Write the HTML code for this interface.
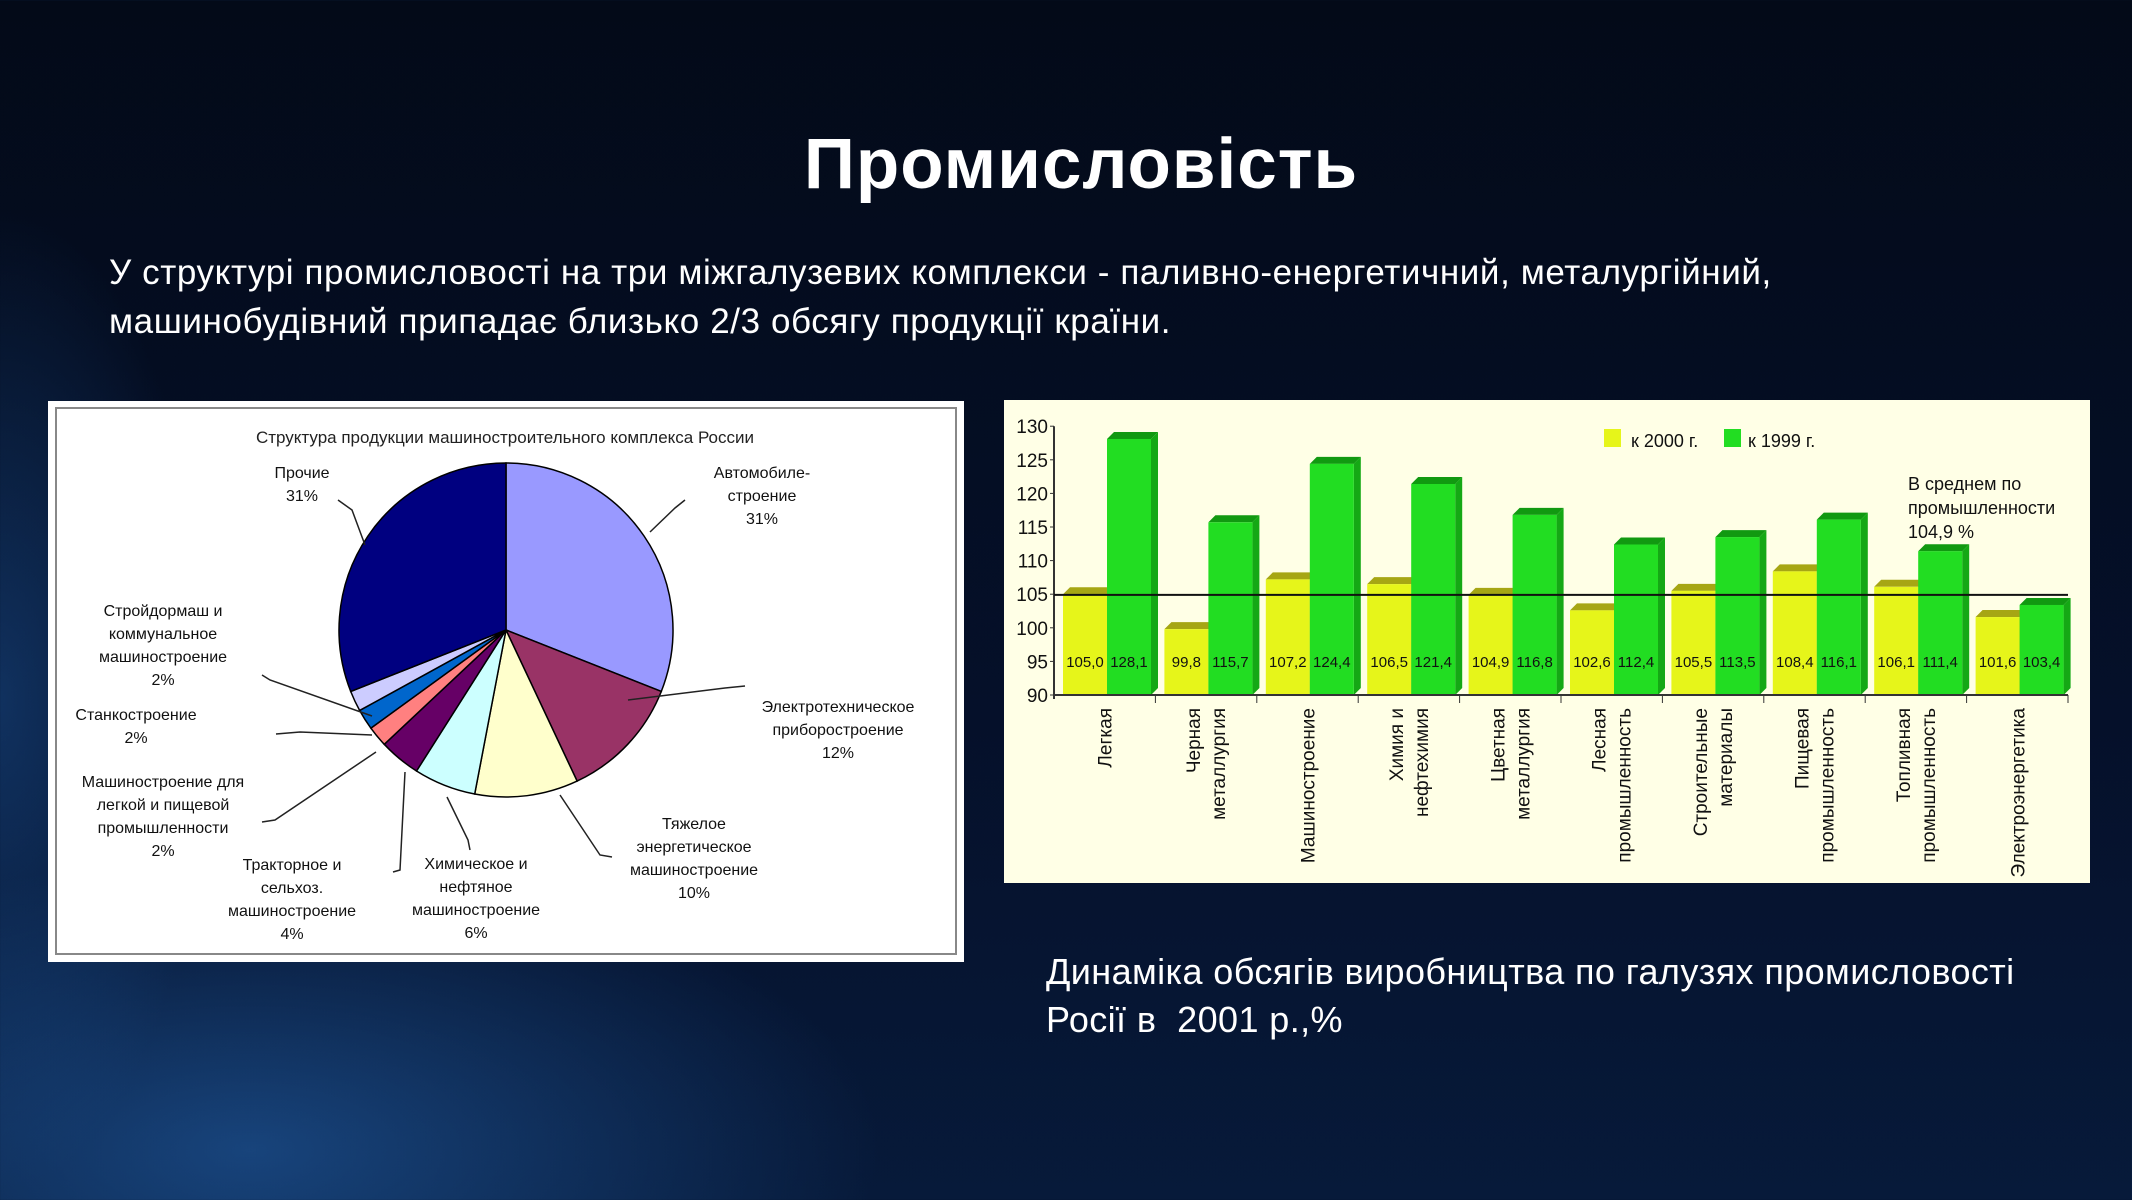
<!DOCTYPE html>
<html><head><meta charset="utf-8"><style>
html,body{margin:0;padding:0}
body{width:2132px;height:1200px;overflow:hidden;position:relative;font-family:"Liberation Sans","DejaVu Sans",sans-serif;
background:radial-gradient(ellipse 900px 420px at 250px 1150px,rgba(40,110,190,.5),rgba(10,30,70,0) 70%),
radial-gradient(ellipse 300px 700px at 0px 700px,rgba(30,90,160,.45),rgba(0,0,0,0) 70%),
linear-gradient(180deg,#030a18 0%,#05102a 60%,#071a3a 100%);}
.t{position:absolute;color:#fff}
</style></head><body>
<div class="t" style="left:0;width:2162px;top:124px;text-align:center;font-size:71px;font-weight:bold;letter-spacing:1px">Промисловість</div>
<div class="t" style="left:109px;top:248px;font-size:35px;line-height:49px;letter-spacing:0.6px">У структурі промисловості на три міжгалузевих комплекси - паливно-енергетичний, металургійний,<br>машинобудівний припадає близько 2/3 обсягу продукції країни.</div>
<div class="t" style="left:1046px;top:948px;font-size:36px;line-height:48px;letter-spacing:0.4px">Динаміка обсягів виробництва по галузях промисловості<br>Росії в&nbsp; 2001 р.,%</div>

<svg style="position:absolute;left:0;top:0" width="2132" height="1200" id="s" font-family="Liberation Sans, DejaVu Sans, sans-serif">
<rect x="48" y="401" width="916" height="561" fill="#fff"/>
<rect x="56" y="408" width="900" height="546" fill="none" stroke="#888" stroke-width="2"/>
<text x="505" y="443" font-size="17" text-anchor="middle" fill="#222">Структура продукции машиностроительного комплекса России</text>
<g id="pie"></g>
<g font-size="16" fill="#111" text-anchor="middle" id="pl"></g>
<rect x="1004" y="400" width="1086" height="483" fill="#ffffe6"/>
<g id="bar"></g>
</svg>
<script>
var NS="http://www.w3.org/2000/svg";
function el(p,t,a,txt){var e=document.createElementNS(NS,t);for(var k in a)e.setAttribute(k,a[k]);if(txt!=null)e.textContent=txt;p.appendChild(e);return e;}
var pie=document.getElementById('pie');
var cx=506,cy=630,r=167;
var sl=[[31,'#9999ff'],[12,'#993366'],[10,'#ffffcc'],[6,'#ccffff'],[4,'#660066'],[2,'#ff8080'],[2,'#0066cc'],[2,'#ccccff'],[31,'#000080']];
var a=0;
sl.forEach(function(s){var a1=a,a2=a+s[0]/100*2*Math.PI;a=a2;
var x1=cx+r*Math.sin(a1),y1=cy-r*Math.cos(a1),x2=cx+r*Math.sin(a2),y2=cy-r*Math.cos(a2);
el(pie,'path',{d:'M'+cx+','+cy+'L'+x1+','+y1+'A'+r+','+r+' 0 '+((a2-a1)>Math.PI?1:0)+' 1 '+x2+','+y2+'Z',fill:s[1],stroke:'#000','stroke-width':1.5});});
var lines=[[365,545,352,510,338,500],[650,532,675,508,685,500],[628,700,725,688,745,686],[560,795,600,855,612,857],[447,797,468,840,470,850],[405,772,400,870,393,872],[376,752,275,820,262,822],[372,735,300,732,276,734],[372,716,270,680,262,675]];
lines.forEach(function(l){el(pie,'polyline',{points:l[0]+','+l[1]+' '+l[2]+','+l[3]+' '+l[4]+','+l[5],fill:'none',stroke:'#222','stroke-width':1.5});});
var pl=document.getElementById('pl');
var labs=[[302,478,['Прочие','31%']],[762,478,['Автомобиле-','строение','31%']],[163,616,['Стройдормаш и','коммунальное','машиностроение','2%']],[136,720,['Станкостроение','2%']],[163,787,['Машиностроение для','легкой и пищевой','промышленности','2%']],[292,870,['Тракторное и','сельхоз.','машиностроение','4%']],[476,869,['Химическое и','нефтяное','машиностроение','6%']],[694,829,['Тяжелое','энергетическое','машиностроение','10%']],[838,712,['Электротехническое','приборостроение','12%']]];
labs.forEach(function(L){L[2].forEach(function(t,i){el(pl,'text',{x:L[0],y:L[1]+i*23},t);});});
var b=document.getElementById('bar');
var X0=1054,X1=2068,Y90=695,k=6.72;function Y(v){return Y90-(v-90)*k;}
for(var v=90;v<=130;v+=5){el(b,'text',{x:1048,y:Y(v)+7,'font-size':19,'text-anchor':'end',fill:'#111'},v);el(b,'line',{x1:X0-4,x2:X0,y1:Y(v),y2:Y(v),stroke:'#333'});}
el(b,'line',{x1:X0,x2:X0,y1:Y(130),y2:Y90+4,stroke:'#333','stroke-width':2});
var d=[[105.0,128.1,['Легкая']],[99.8,115.7,['Черная','металлургия']],[107.2,124.4,['Машиностроение']],[106.5,121.4,['Химия и','нефтехимия']],[104.9,116.8,['Цветная','металлургия']],[102.6,112.4,['Лесная','промышленность']],[105.5,113.5,['Строительные','материалы']],[108.4,116.1,['Пищевая','промышленность']],[106.1,111.4,['Топливная','промышленность']],[101.6,103.4,['Электроэнергетика']]];
var gw=(X1-X0)/10,bw=44,o=7;
d.forEach(function(g,i){var gx=X0+i*gw+9;
[[g[0],'#e6f51a','#a6a614','#c0c020'],[g[1],'#22dd22','#119911','#15a815']].forEach(function(s,j){var x=gx+j*bw,y=Y(s[0]);
el(b,'polygon',{points:x+','+y+' '+(x+o)+','+(y-o)+' '+(x+bw+o)+','+(y-o)+' '+(x+bw)+','+y,fill:s[2]});
el(b,'polygon',{points:(x+bw)+','+y+' '+(x+bw+o)+','+(y-o)+' '+(x+bw+o)+','+(Y90-o)+' '+(x+bw)+','+Y90,fill:s[3]});
el(b,'rect',{x:x,y:y,width:bw,height:Y90-y,fill:s[1]});
el(b,'text',{x:x+bw/2,y:667,'font-size':15,'text-anchor':'middle',fill:'#111'},s[0].toFixed(1).replace('.',','));});
var c=X0+(i+0.5)*gw, ls=g[2];
ls.forEach(function(t,m){var xx=ls.length==1?c+7:c-6+m*25;el(b,'text',{x:xx,y:708,'font-size':19,'text-anchor':'end',transform:'rotate(-90 '+xx+' 708)',fill:'#111'},t);});
el(b,'line',{x1:X0+(i+1)*gw,x2:X0+(i+1)*gw,y1:Y90,y2:Y90+8,stroke:'#333'});});
el(b,'line',{x1:X0,x2:X1,y1:Y90,y2:Y90,stroke:'#333','stroke-width':2});
el(b,'line',{x1:X0,x2:X1,y1:Y(104.9),y2:Y(104.9),stroke:'#111','stroke-width':2});
el(b,'rect',{x:1604,y:429,width:17,height:18,fill:'#e6f51a'});el(b,'text',{x:1631,y:447,'font-size':18,fill:'#111'},'к 2000 г.');
el(b,'rect',{x:1724,y:429,width:17,height:18,fill:'#22dd22'});el(b,'text',{x:1748,y:447,'font-size':18,fill:'#111'},'к 1999 г.');
['В среднем по','промышленности','104,9 %'].forEach(function(t,i){el(b,'text',{x:1908,y:490+i*24,'font-size':18,fill:'#111'},t);});
</script>
</body></html>
